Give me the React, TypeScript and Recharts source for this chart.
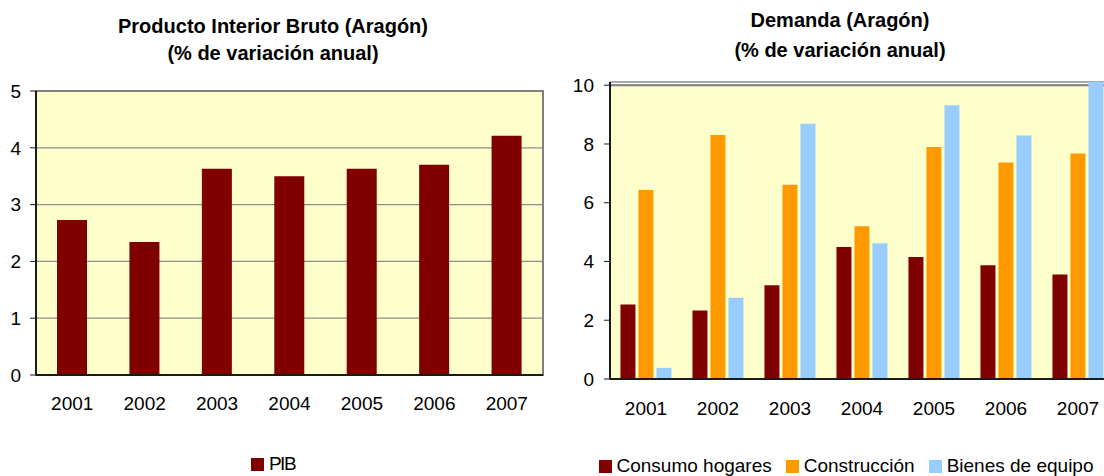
import React from 'react'
import {
  BarChart,
  Bar,
  XAxis,
  YAxis,
  CartesianGrid,
  ReferenceArea,
  Legend,
} from 'recharts'

const years = ['2001', '2002', '2003', '2004', '2005', '2006', '2007']

// PIB, % variación anual
const pib = [2.73, 2.34, 3.63, 3.5, 3.63, 3.7, 4.21]

// Demanda, % variación anual
const consumoHogares = [2.54, 2.33, 3.19, 4.49, 4.15, 3.87, 3.56]
const construccion = [6.43, 8.31, 6.61, 5.2, 7.9, 7.37, 7.68]
const bienesEquipo = [0.38, 2.77, 8.69, 4.62, 9.32, 8.29, 10.11]

const seriesNames = ['PIB', 'Consumo hogares', 'Construcción', 'Bienes de equipo']

const pibTicks = [0, 1, 2, 3, 4, 5]
const demandaTicks = [0, 2, 4, 6, 8, 10]

const FONT = '"Liberation Sans", Arial, sans-serif'
const PLOT_BG = '#FFFFCC'
const GRID = '#8c8c8c'
const AXIS = '#1a1a1a'

const pibData = years.map((year, i) => ({ year, pib: pib[i] }))
const demandaData = years.map((year, i) => ({
  year,
  consumo: consumoHogares[i],
  construccion: construccion[i],
  bienes: bienesEquipo[i],
}))

const tickStyle = { fill: '#000', fontSize: 19, fontFamily: FONT }

// eslint-disable-next-line @typescript-eslint/no-explicit-any
function SquareLegend({ payload, squish }: any) {
  const items = [...(payload || [])].sort(
    (a: any, b: any) => seriesNames.indexOf(a.value) - seriesNames.indexOf(b.value)
  )
  return (
    <div
      style={{
        display: 'flex',
        justifyContent: 'center',
        alignItems: 'center',
        fontFamily: FONT,
        fontSize: 19,
        color: '#000',
      }}
    >
      {items.map((p: any) => (
        <span key={p.value} style={{ display: 'flex', alignItems: 'center', margin: '0 7px' }}>
          <span style={{ width: 13, height: 13, background: p.color, marginRight: 5 }} />
          <span style={{ letterSpacing: squish ? -1.5 : 0 }}>{p.value}</span>
        </span>
      ))}
    </div>
  )
}

function Title({ lines, center, tops }: { lines: string[]; center: number; tops: number[] }) {
  return (
    <>
      {lines.map((t, i) => (
        <div
          key={t}
          style={{
            position: 'absolute',
            left: center - 250,
            width: 500,
            top: tops[i],
            textAlign: 'center',
            fontFamily: FONT,
            fontWeight: 'bold',
            fontSize: 20,
            lineHeight: '22px',
            color: '#000',
            whiteSpace: 'nowrap',
          }}
        >
          {t}
        </div>
      ))}
    </>
  )
}

export default function App() {
  return (
    <div
      style={{
        position: 'absolute',
        left: 0,
        top: 0,
        width: 1104,
        height: 476,
        overflow: 'hidden',
        background: '#fff',
      }}
    >
      <Title
        lines={['Producto Interior Bruto (Aragón)', '(% de variación anual)']}
        center={273}
        tops={[15, 42]}
      />
      <Title lines={['Demanda (Aragón)', '(% de variación anual)']} center={840} tops={[9, 39]} />

      <div style={{ position: 'absolute', left: 0, top: 0 }}>
        <BarChart
          width={560}
          height={476}
          data={pibData}
          margin={{ top: 91, right: 17, bottom: 61, left: 0 }}
          barCategoryGap="29%"
        >
          <CartesianGrid vertical={false} fill={PLOT_BG} stroke={GRID} strokeWidth={1.3} />
          <ReferenceArea y1={0} y2={5} fill="none" stroke="#808080" strokeWidth={2} />
          <XAxis
            dataKey="year"
            height={40}
            tickLine={false}
            tickSize={0}
            tickMargin={22}
            axisLine={{ stroke: AXIS, strokeWidth: 2 }}
            tick={tickStyle}
          />
          <YAxis
            width={36}
            domain={[0, 5]}
            ticks={pibTicks}
            tickSize={6}
            tickMargin={9}
            axisLine={{ stroke: AXIS, strokeWidth: 2 }}
            tickLine={{ stroke: AXIS }}
            tick={tickStyle}
          />
          <Legend
            layout="horizontal"
            verticalAlign="middle"
            wrapperStyle={{ left: 0, width: 546, top: 453 }}
            content={<SquareLegend squish />}
          />
          <Bar dataKey="pib" name="PIB" fill="#800000" isAnimationActive={false} />
        </BarChart>
      </div>

      <div style={{ position: 'absolute', left: 560, top: 0 }}>
        <BarChart
          width={600}
          height={476}
          data={demandaData}
          margin={{ top: 82, right: 46, bottom: 57, left: 0 }}
          barCategoryGap="14.5%"
          barGap={3}
        >
          <ReferenceArea y1={0} y2={10} fill={PLOT_BG} fillOpacity={1} stroke="#808080" strokeWidth={2} />
          <CartesianGrid vertical={false} stroke={GRID} strokeWidth={1.3} />
          <XAxis
            dataKey="year"
            height={40}
            tickLine={false}
            tickSize={0}
            tickMargin={23}
            axisLine={{ stroke: AXIS, strokeWidth: 2 }}
            tick={tickStyle}
          />
          <YAxis
            width={50}
            domain={[0, 'dataMax']}
            ticks={demandaTicks}
            tickSize={6}
            tickMargin={10}
            axisLine={{ stroke: AXIS, strokeWidth: 2 }}
            tickLine={{ stroke: AXIS }}
            tick={tickStyle}
          />
          <Legend
            layout="horizontal"
            verticalAlign="middle"
            wrapperStyle={{ left: 0, width: 572, top: 455 }}
            content={<SquareLegend />}
          />
          <Bar dataKey="consumo" name="Consumo hogares" fill="#800000" isAnimationActive={false} />
          <Bar dataKey="construccion" name="Construcción" fill="#FF9900" isAnimationActive={false} />
          <Bar dataKey="bienes" name="Bienes de equipo" fill="#99CCFF" isAnimationActive={false} />
        </BarChart>
      </div>
    </div>
  )
}
